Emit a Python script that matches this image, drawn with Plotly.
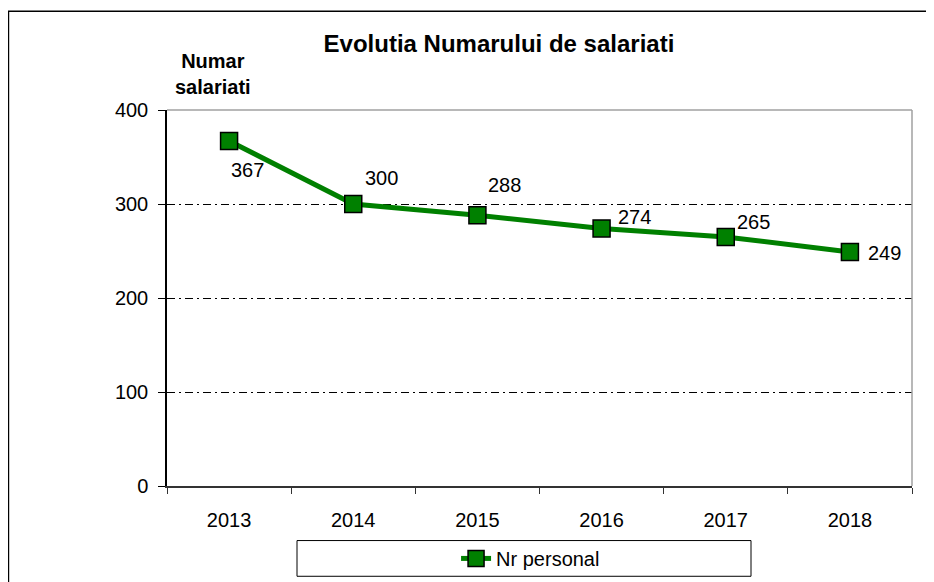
import plotly.graph_objects as go

years = ["2013", "2014", "2015", "2016", "2017", "2018"]
nr_personal = [367, 300, 288, 274, 265, 249]
y_ticks = [0, 100, 200, 300, 400]

# label offsets (px) relative to each marker
label_dx = [18, 28, 27, 33, 28, 35]
label_dy = [-29, 26, 30, 11, 15, -1]

green = "#008000"
font = "Liberation Sans, Arial, sans-serif"

fig = go.Figure()
fig.add_trace(go.Scatter(
    x=years, y=nr_personal, mode="lines+markers", name="Nr personal",
    line=dict(color=green, width=5),
    marker=dict(symbol="square", size=17, color=green,
                line=dict(color="black", width=1.5)),
))

# category axis: annotations placed by category index
for i, (v, dx, dy) in enumerate(zip(nr_personal, label_dx, label_dy)):
    fig.add_annotation(x=i, y=v, text=str(v), showarrow=False,
                       xshift=dx, yshift=dy, font=dict(size=20, color="black"))

# axis titles
fig.add_annotation(x=0.0624, y=1.095, xref="paper", yref="paper",
                   xanchor="center", yanchor="middle",
                   text="<b>Numar<br>salariati</b>", showarrow=False,
                   font=dict(size=20, color="black"))
fig.add_annotation(x=1.02, y=-0.103, xref="paper", yref="paper",
                   xanchor="left", yanchor="middle", text="<b>An</b>",
                   showarrow=False, font=dict(size=20, color="black"))

# chart frame, plot border (top/right), legend box
fig.add_shape(type="rect", xref="paper", yref="paper",
              x0=-0.2128, x1=1.2, y0=-0.4, y1=1.2625,
              line=dict(color="black", width=1.5), layer="below")
fig.add_shape(type="line", xref="paper", yref="paper",
              x0=0, x1=1, y0=1, y1=1, line=dict(color="#a0a0a0", width=1.5))
fig.add_shape(type="line", xref="paper", yref="paper",
              x0=1, x1=1, y0=0, y1=1, line=dict(color="#a0a0a0", width=1.5))
fig.add_shape(type="rect", xref="paper", yref="paper",
              x0=0.1745, x1=0.7839, y0=-0.2401, y1=-0.1451,
              line=dict(color="black", width=1), layer="below")

# page body has an 8px margin, so margins are offset by 8px
fig.update_layout(
    width=934, height=582,
    margin=dict(l=159, r=30, t=102, b=101),
    paper_bgcolor="white", plot_bgcolor="white",
    font=dict(family=font, size=20, color="black"),
    title=dict(text="<b>Evolutia Numarului de salariati</b>",
               x=0.4456, xref="paper", xanchor="center",
               y=1 - 36 / 582, yanchor="middle",
               font=dict(size=24, color="black")),
    showlegend=True,
    legend=dict(x=0.488, y=-0.1926, xanchor="center", yanchor="middle",
                bgcolor="rgba(0,0,0,0)", font=dict(size=20)),
    xaxis=dict(type="category", tickson="boundaries", ticks="outside",
               ticklen=6, tickcolor="#333", showgrid=False,
               showline=True, linecolor="#333", linewidth=2,
               range=[-0.5, 5.5], ticklabelstandoff=15),
    yaxis=dict(range=[0, 400], tickvals=y_ticks, ticks="outside",
               ticklen=7, tickcolor="black", showline=True,
               linecolor="black", linewidth=1.5, zeroline=False,
               showgrid=True, gridcolor="black", gridwidth=1,
               griddash="8px,4px,2px,4px", ticklabelstandoff=6),
)

fig.write_html("out.html")
